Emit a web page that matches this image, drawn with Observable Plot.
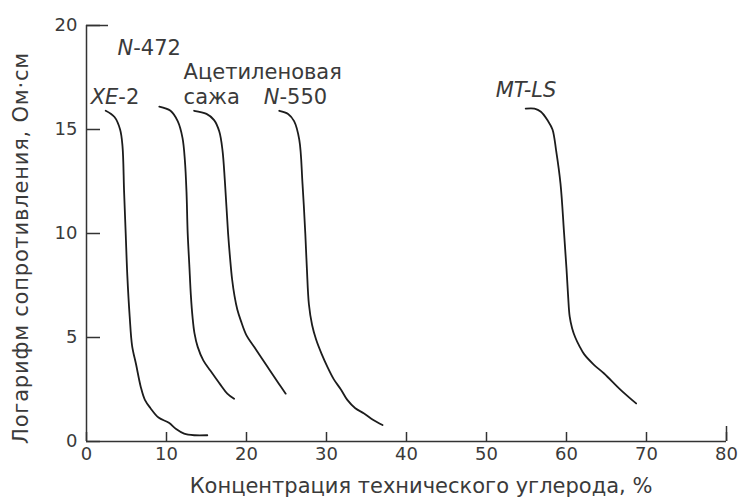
<!DOCTYPE html>
<html><head><meta charset="utf-8">
<script src="https://cdn.jsdelivr.net/npm/d3@7"></script>
<script src="https://cdn.jsdelivr.net/npm/@observablehq/plot@0.6"></script>
<style>
body{margin:0;background:#fff;}
#chart svg{display:block;}
</style></head><body><div id="chart"></div>
<script>
// Axis ticks and titles
const xTicks = [0, 10, 20, 30, 40, 50, 60, 70, 80];
const yTicks = [0, 5, 10, 15, 20];
const xTitle = "Концентрация технического углерода, %";
const yTitle = "Логарифм сопротивления, Ом·см";

// Series names
const seriesNames = ["XE-2", "N-472", "Ацетиленовая\nсажа", "N-550", "MT-LS"];

// Series values: [concentration %, log resistivity]
const xe2 = [[2.4,15.9],[3.5,15.6],[4.2,15.0],[4.5,14.2],[4.7,12.0],[4.9,10.0],[5.1,8.0],[5.4,6.0],[5.7,4.6],[6.2,3.7],[6.8,2.6],[7.3,2.0],[8.0,1.6],[9.0,1.15],[10.3,0.9],[11.2,0.6],[12.2,0.38],[13.5,0.3],[15.1,0.3]];
const n472 = [[9.1,16.1],[10.5,15.9],[11.4,15.4],[12.0,14.6],[12.3,13.5],[12.5,12.0],[12.65,10.0],[12.85,8.5],[13.05,7.0],[13.25,6.0],[13.5,5.2],[13.9,4.55],[14.6,3.9],[15.5,3.4],[16.8,2.7],[17.6,2.3],[18.45,2.05]];
const acet = [[13.45,15.9],[15.0,15.75],[15.95,15.45],[16.6,14.9],[17.0,14.0],[17.3,12.5],[17.7,10.0],[17.95,8.8],[18.2,7.8],[18.5,7.0],[18.85,6.35],[19.3,5.8],[20.0,5.1],[20.95,4.55],[22.6,3.6],[24.0,2.8],[24.9,2.3]];
const n550 = [[24.1,15.9],[25.2,15.75],[25.95,15.4],[26.6,14.5],[27.0,12.4],[27.35,10.0],[27.55,8.3],[27.8,6.6],[28.2,5.6],[28.7,4.9],[29.4,4.2],[30.1,3.6],[30.9,3.0],[31.8,2.5],[32.6,2.0],[33.6,1.6],[34.7,1.35],[35.8,1.05],[37.0,0.79]];
const mtls = [[54.9,16.0],[56.0,16.0],[56.8,15.85],[57.7,15.4],[58.25,15.0],[58.7,14.0],[59.25,12.4],[59.7,10.0],[60.0,8.3],[60.2,7.0],[60.4,6.0],[60.7,5.45],[61.1,5.0],[61.6,4.6],[62.2,4.2],[63.4,3.7],[64.7,3.27],[66.8,2.47],[68.7,1.83]];

const seriesPoints = [xe2, n472, acet, n550, mtls];
const rows = seriesPoints.flatMap((pts, i) => pts.map(([x, y]) => ({series: seriesNames[i], x, y})));
const starts = seriesPoints.map((pts, i) => ({series: seriesNames[i], x: pts[0][0], y: pts[0][1]}));

// Styles
const ink = "#1c1c1c", axisInk = "#333333", textInk = "#3a3a3a";
const labelOffsets = [[-15, -6.6], [-41.8, -51.9], [-10.5, -6.6], [-15.5, -6.6], [-30, -12]];

const plot = Plot.plot({
  width: 740, height: 503,
  marginLeft: 86, marginRight: 14, marginTop: 25, marginBottom: 62,
  style: {fontFamily: "'DejaVu Sans', sans-serif", fontSize: "18px", color: textInk, background: "#fff"},
  x: {domain: [0, 80]},
  y: {domain: [0, 20]},
  marks: [
    Plot.axisX({ticks: xTicks, tickSize: -9, tickPadding: 15, label: null, stroke: axisInk, strokeWidth: 1.5, fill: textInk}),
    Plot.axisX({ticks: [80], tickSize: -15, label: null, stroke: axisInk, strokeWidth: 1.5, fill: "none"}),
    Plot.axisY({ticks: yTicks, tickSize: -14, tickPadding: 23, label: null, stroke: axisInk, strokeWidth: 1.5, fill: textInk}),
    Plot.axisY({ticks: [20], tickSize: -22, label: null, stroke: axisInk, strokeWidth: 1.5, fill: "none"}),
    Plot.ruleX([0], {stroke: axisInk, strokeWidth: 1.5}),
    Plot.ruleY([0], {stroke: axisInk, strokeWidth: 1.5}),
    Plot.line(rows, {x: "x", y: "y", z: "series", curve: "catmull-rom", stroke: ink, strokeWidth: 1.8}),
    ...starts.map((d, i) => Plot.text([d], {
      x: "x", y: "y", text: "series", textAnchor: "start", lineAnchor: "bottom",
      dx: labelOffsets[i][0], dy: labelOffsets[i][1], fontSize: 21, lineHeight: 1.21, fill: textInk
    })),
    Plot.text([xTitle], {frameAnchor: "bottom", text: d => d, textAnchor: "middle", dx: 14.5, dy: 51, lineAnchor: "bottom", fontSize: 21, fill: textInk}),
    Plot.text([yTitle], {frameAnchor: "left", text: d => d, textAnchor: "middle", rotate: -90, dx: -58.5, dy: 14.5, lineAnchor: "bottom", fontSize: 21, fill: textInk})
  ]
});

// Italic parts of the curve labels; spacing of the y title
d3.select(plot).selectAll("text").each(function() {
  const t = this.textContent;
  const sel = d3.select(this);
  if (t === "XE-2" || t === "N-472" || t === "N-550") {
    const k = t.indexOf("-");
    sel.text(null);
    sel.append("tspan").attr("font-style", "italic").text(t.slice(0, k));
    sel.append("tspan").text(t.slice(k));
  } else if (t === "MT-LS") {
    sel.attr("font-style", "italic");
  } else if (t === yTitle) {
    sel.attr("letter-spacing", "0.8px");
  }
});

document.getElementById("chart").append(plot);
</script>
</body></html>
